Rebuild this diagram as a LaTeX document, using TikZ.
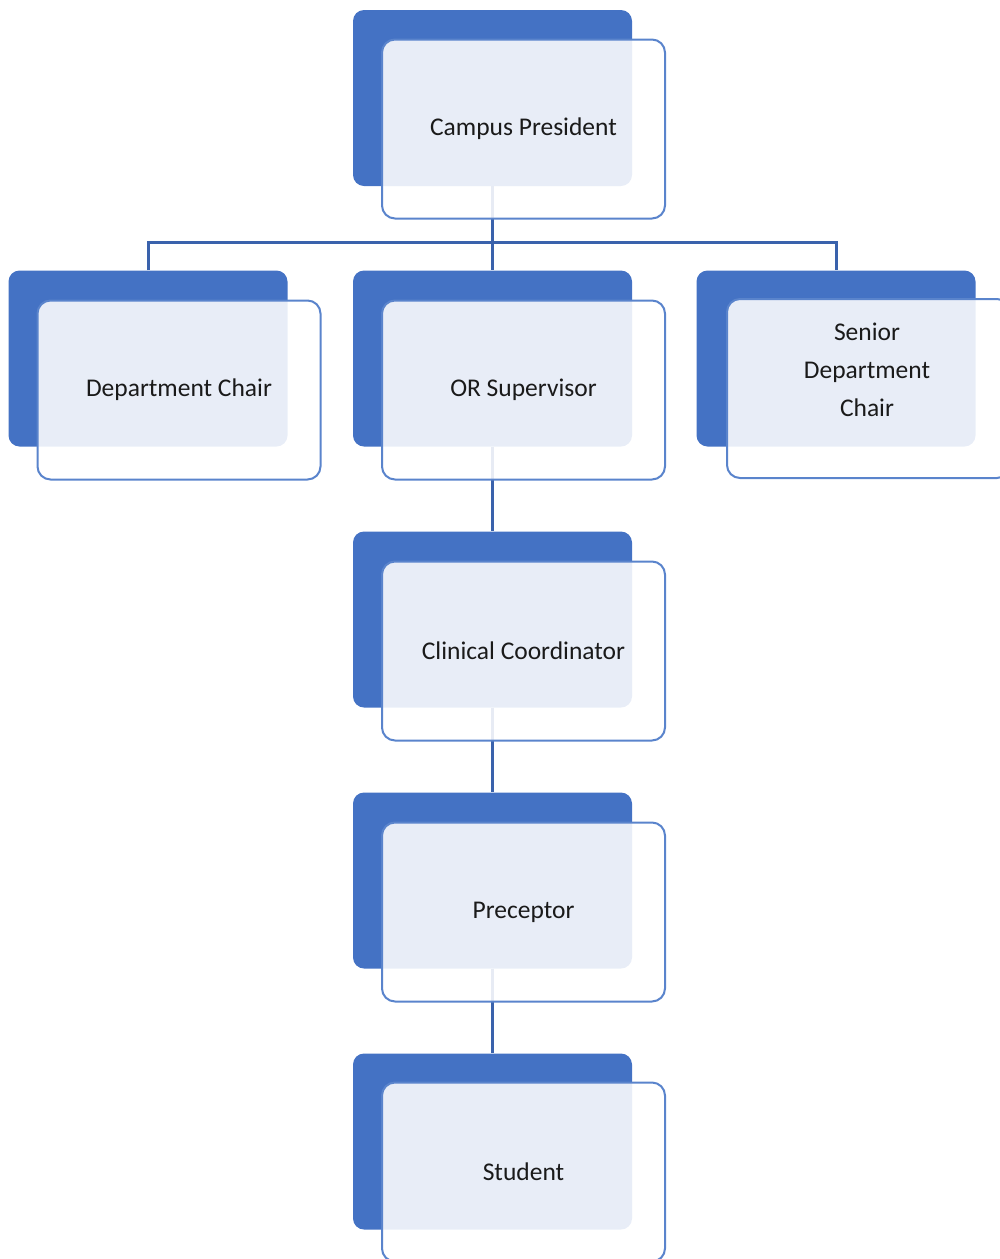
\documentclass[tikz,border=0pt]{standalone}
\usepackage{fontspec}
\setmainfont{Carlito}
\definecolor{backblue}{HTML}{4472C4}
\definecolor{edgeblue}{HTML}{5A84CC}
\definecolor{linkblue}{HTML}{3A62AC}
\definecolor{txt}{HTML}{1A1A1A}
\tikzset{
  backbox/.style={rectangle, rounded corners=11pt, fill=backblue, draw=none,
    minimum width=279pt, minimum height=176pt, inner sep=0pt},
  frontbox/.style={rectangle, rounded corners=13pt, fill=white, fill opacity=0.88,
    text opacity=1, draw=edgeblue, line width=2pt,
    minimum width=283pt, minimum height=179pt, inner sep=0pt,
    align=center, text=txt, font=\fontsize{25.5}{38}\selectfont},
  boxtext/.style={inner sep=0pt, align=center, text=txt, font=\fontsize{25.5}{38}\selectfont},
  link/.style={draw=linkblue, line width=3pt}
}
\begin{document}
\begin{tikzpicture}[x=1pt,y=-1pt]
\useasboundingbox (0,0) rectangle (1000,1259);
% back boxes
\node[backbox] (b0) at (492.5,98) {};
\node[backbox] (b1) at (148,358.5) {};
\node[backbox] (b2) at (492.5,358.5) {};
\node[backbox] (b3) at (836,358.5) {};
\node[backbox] (b4) at (492.5,619.5) {};
\node[backbox] (b5) at (492.5,880.5) {};
\node[backbox] (b6) at (492.5,1141.5) {};
% connectors
\coordinate (bus) at (492.5,242);
\draw[link] (b0.south) -- (b2.north);
\draw[link] (b1.north) |- (bus) -| (b3.north);
\draw[link] (b2.south) -- (b4.north);
\draw[link] (b4.south) -- (b5.north);
\draw[link] (b5.south) -- (b6.north);
% front boxes
\node[frontbox] (f0) at (523.5,129) {Campus President};
\node[frontbox] (f1) at (179,390) {Department Chair};
\node[frontbox] (f2) at (523.5,390) {OR Supervisor};
\node[frontbox] (f3) at (868.5,388.5) {};
\node[boxtext] (t3) at (867,370) {Senior\\Department\\Chair};
\node[frontbox] (f4) at (523.5,651) {Clinical Coordinator};
\node[frontbox] (f5) at (523.5,912) {Preceptor};
\node[frontbox] (f6) at (523.5,1172) {Student};
\end{tikzpicture}
\end{document}
